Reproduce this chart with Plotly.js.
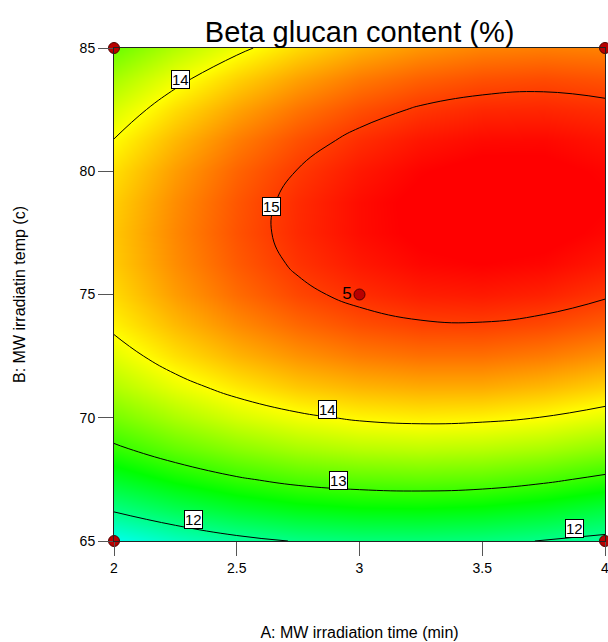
<!DOCTYPE html>
<html>
<head>
<meta charset="utf-8">
<script src="https://cdn.plot.ly/plotly-3.0.1.min.js"></script>
<style>html,body{margin:0;padding:0;background:#fff}#chart{width:608px;height:642px}</style>
</head>
<body>
<div id="chart"></div>
<script>
// A: MW irradiation time (min)
const timeVals = [2, 2.25, 2.5, 2.75, 3, 3.25, 3.5, 3.75, 4];
// B: MW irradiation temp (c)
const tempVals = [65, 66.25, 67.5, 68.75, 70, 71.25, 72.5, 73.75, 75, 76.25, 77.5, 78.75, 80, 81.25, 82.5, 83.75, 85];
const bg65_00 = [11.49, 11.72, 11.90, 12.02, 12.08, 12.09, 12.06, 11.99, 11.90];
const bg66_25 = [12.03, 12.27, 12.46, 12.59, 12.66, 12.67, 12.63, 12.53, 12.37];
const bg67_50 = [12.51, 12.76, 12.96, 13.10, 13.17, 13.20, 13.17, 13.07, 12.92];
const bg68_75 = [12.94, 13.20, 13.40, 13.55, 13.64, 13.67, 13.64, 13.56, 13.42];
const bg70_00 = [13.30, 13.57, 13.79, 13.94, 14.04, 14.08, 14.06, 13.99, 13.86];
const bg71_25 = [13.61, 13.89, 14.11, 14.28, 14.38, 14.43, 14.43, 14.36, 14.24];
const bg72_50 = [13.86, 14.15, 14.38, 14.55, 14.67, 14.73, 14.73, 14.67, 14.56];
const bg73_75 = [14.06, 14.35, 14.59, 14.77, 14.90, 14.97, 14.98, 14.93, 14.83];
const bg75_00 = [14.19, 14.50, 14.75, 14.94, 15.07, 15.15, 15.17, 15.13, 15.03];
const bg76_25 = [14.27, 14.58, 14.84, 15.04, 15.18, 15.27, 15.30, 15.27, 15.18];
const bg77_50 = [14.29, 14.61, 14.88, 15.09, 15.24, 15.33, 15.37, 15.35, 15.27];
const bg78_75 = [14.25, 14.58, 14.86, 15.08, 15.24, 15.34, 15.39, 15.38, 15.31];
const bg80_00 = [14.16, 14.50, 14.79, 15.01, 15.18, 15.29, 15.35, 15.34, 15.28];
const bg81_25 = [14.01, 14.36, 14.66, 14.89, 15.07, 15.19, 15.25, 15.26, 15.20];
const bg82_50 = [13.81, 14.17, 14.47, 14.71, 14.90, 15.03, 15.10, 15.11, 15.07];
const bg83_75 = [13.55, 13.92, 14.23, 14.48, 14.68, 14.81, 14.89, 14.92, 14.88];
const bg85_00 = [13.24, 13.61, 13.93, 14.19, 14.40, 14.54, 14.63, 14.66, 14.64];
// design points
const designTime = [2, 2, 4, 4, 3];
const designTemp = [65, 85, 65, 85, 75];
const designReps = ['', '', '', '', '5'];
// contour labels
const labelText = ['14', '15', '14', '13', '12', '12'];
const labelTime = [2.27, 2.642, 2.87, 2.914, 2.323, 3.875];
const labelTemp = [83.74, 78.59, 70.34, 67.45, 65.88, 65.52];

const zGrid = [bg65_00, bg66_25, bg67_50, bg68_75, bg70_00, bg71_25, bg72_50, bg73_75, bg75_00,
               bg76_25, bg77_50, bg78_75, bg80_00, bg81_25, bg82_50, bg83_75, bg85_00];

const FONT = 'Liberation Sans, Arial, sans-serif';

const contour = {
  type: 'contour',
  x: timeVals, y: tempVals, z: zGrid,
  zauto: false, zmin: 10.1, zmax: 15.3,
  colorscale: [[0, '#0000FF'], [0.25, '#00FFFF'], [0.5, '#00FF00'], [0.75, '#FFFF00'], [1, '#FF0000']],
  contours: {start: 12, end: 15, size: 1, coloring: 'heatmap', showlabels: false},
  line: {color: '#000000', width: 1, smoothing: 1.3},
  showscale: false, hoverinfo: 'skip'
};

const design = {
  type: 'scatter', mode: 'markers+text',
  x: designTime, y: designTemp, text: designReps,
  textposition: 'middle left',
  textfont: {family: FONT, size: 17, color: '#000'},
  marker: {size: 11, color: '#B80000', line: {color: '#500000', width: 1}},
  cliponaxis: false, showlegend: false
};

const annotations = labelText.map((t, i) => ({
  x: labelTime[i], y: labelTemp[i], xref: 'x', yref: 'y',
  text: t, showarrow: false,
  font: {family: FONT, size: 15, color: '#000'},
  bgcolor: '#FFFFFF', bordercolor: '#000000', borderwidth: 1, borderpad: 0
}));

const tickFont = {family: FONT, size: 14, color: '#000'};
const titleFont = {family: FONT, size: 16, color: '#000'};

const layout = {
  width: 608, height: 642,
  margin: {l: 114, r: 3, t: 48, b: 101},
  paper_bgcolor: '#FFFFFF', plot_bgcolor: '#FFFFFF',
  showlegend: false,
  title: {text: 'Beta glucan content (%)', x: 0.5915, xanchor: 'center', y: 0.951, yanchor: 'middle',
          font: {family: FONT, size: 29, color: '#000'}},
  xaxis: {
    range: [2, 4], tickvals: [2, 2.5, 3, 3.5, 4], ticktext: ['2', '2.5', '3', '3.5', '4'],
    ticks: 'outside', ticklen: 14, tickcolor: '#555', tickwidth: 1,
    ticklabeloverflow: 'allow',
    showline: true, linecolor: '#222', linewidth: 1, mirror: true,
    showgrid: false, zeroline: false, tickfont: tickFont,
    title: {text: 'A: MW irradiation time (min)', font: titleFont, standoff: 52},
    automargin: false
  },
  yaxis: {
    range: [65, 85], tickvals: [65, 70, 75, 80, 85], ticktext: ['65', '70', '75', '80', '85'],
    ticks: 'outside', ticklen: 15, tickcolor: '#555', tickwidth: 1,
    showline: true, linecolor: '#222', linewidth: 1, mirror: true,
    showgrid: false, zeroline: false, tickfont: tickFont,
    title: {text: 'B: MW irradiatin temp (c)', font: titleFont, standoff: 50},
    automargin: false
  },
  annotations: annotations
};

Plotly.newPlot('chart', [contour, design], layout, {displayModeBar: false, staticPlot: true});
</script>
</body>
</html>
